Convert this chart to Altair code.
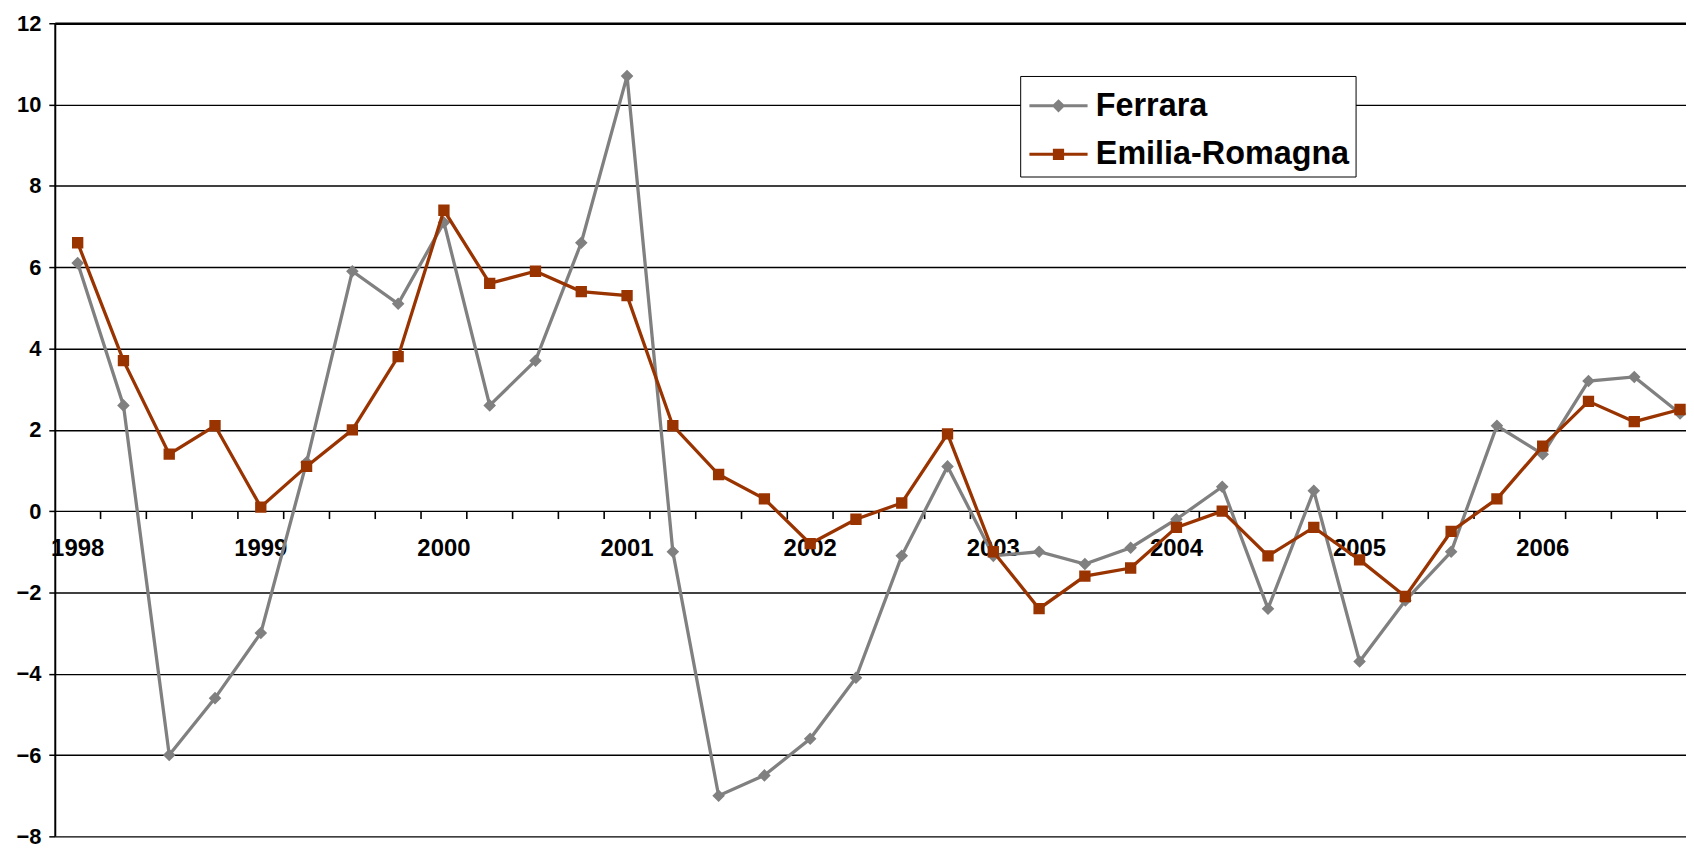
import altair as alt
import pandas as pd

# ---- data (quarterly values) ----
years = ["1998", "1999", "2000", "2001", "2002", "2003", "2004", "2005", "2006"]
quarters = [f"{y}-T{q}" for y in years for q in (1, 2, 3, 4)]

ferrara = [6.1, 2.6, -6.0, -4.6, -3.0, 1.2, 5.9, 5.1, 7.1, 2.6, 3.7, 6.6,
           10.7, -1.0, -7.0, -6.5, -5.6, -4.1, -1.1, 1.1, -1.1, -1.0, -1.3, -0.9,
           -0.2, 0.6, -2.4, 0.5, -3.7, -2.2, -1.0, 2.1, 1.4, 3.2, 3.3, 2.4]
emilia = [6.6, 3.7, 1.4, 2.1, 0.1, 1.1, 2.0, 3.8, 7.4, 5.6, 5.9, 5.4,
          5.3, 2.1, 0.9, 0.3, -0.8, -0.2, 0.2, 1.9, -1.0, -2.4, -1.6, -1.4,
          -0.4, 0.0, -1.1, -0.4, -1.2, -2.1, -0.5, 0.3, 1.6, 2.7, 2.2, 2.5]

series_names = ["Ferrara", "Emilia-Romagna"]
series_colors = ["#808080", "#993300"]
# marker symbols: a line through the marker (the line part is only visible in the legend)
series_symbols = ["M-1.27,0H1.27M0,-0.2L0.2,0L0,0.2L-0.2,0Z",
                  "M-1.27,0H1.27M-0.18,-0.18H0.18V0.18H-0.18Z"]
y_ticks = [-8, -6, -4, -2, 0, 2, 4, 6, 8, 10, 12]

rows = []
for name, vals in zip(series_names, [ferrara, emilia]):
    for i, (q, v) in enumerate(zip(quarters, vals)):
        rows.append({"serie": name, "trimestre": q, "pos": i, "valore": v})
df = pd.DataFrame(rows)

labels_df = pd.DataFrame({
    "anno": years,
    "pos": [quarters.index(f"{y}-T1") for y in years],
    "zero": [0] * len(years),
})
ticks_df = pd.DataFrame({
    "b": [i + 0.5 for i in range(len(quarters) - 1)],
    "zero": [0] * (len(quarters) - 1),
})

FONT = "Liberation Sans"

x_scale = alt.Scale(domain=[-0.5, 35.13], nice=False, zero=False)
y_scale = alt.Scale(domain=[-8, 12], nice=False, zero=False)
color_scale = alt.Scale(domain=series_names, range=series_colors)
shape_scale = alt.Scale(domain=series_names, range=series_symbols)

x_axis = alt.Axis(orient="top", labels=False, ticks=False, grid=False,
                  domain=True, domainColor="black", domainWidth=2.6, title=None)
y_axis = alt.Axis(values=y_ticks, grid=True, gridColor="black", gridWidth=1.4,
                  gridOpacity=1, domain=True, domainColor="black", domainWidth=2,
                  ticks=True, tickColor="black", tickSize=6, tickWidth=1.5,
                  labelFont=FONT, labelFontWeight="bold", labelFontSize=22,
                  labelColor="black", labelPadding=8, title=None)

legend = alt.Legend(
    title=None, orient="none", legendX=970, legendY=53,
    padding=5.5, rowPadding=7.7, symbolSize=2116, symbolStrokeWidth=3,
    symbolOffset=8.5, labelOffset=13, symbolOpacity=1,
    labelFont=FONT, labelFontWeight="bold", labelFontSize=32.5,
    labelColor="black", labelLimit=500,
    strokeColor="black", fillColor="white",
)

X = lambda f: alt.X(f, scale=x_scale, axis=x_axis)
Y = lambda f: alt.Y(f, scale=y_scale, axis=y_axis)

ticks = alt.Chart(ticks_df).mark_rule(color="black", strokeWidth=1.6, y2Offset=8).encode(
    x=X("b:Q"), y=Y("zero:Q"), y2="zero:Q")

year_labels = alt.Chart(labels_df).mark_text(
    font=FONT, fontWeight="bold", fontSize=24, color="black",
    baseline="alphabetic", align="center", dy=45).encode(
    x=X("pos:Q"), y=Y("zero:Q"), text="anno:N")


def series_layers(idx):
    name = series_names[idx]
    base = alt.Chart(df).transform_filter(alt.datum.serie == name)
    line = base.mark_line(strokeWidth=3.3, color=series_colors[idx]).encode(
        x=X("pos:Q"), y=Y("valore:Q"))
    pts = base.mark_point(filled=True, size=4000, opacity=1, strokeWidth=0).encode(
        x=X("pos:Q"), y=Y("valore:Q"),
        color=alt.Color("serie:N", scale=color_scale, legend=legend),
        stroke=alt.Stroke("serie:N", scale=color_scale, legend=legend),
        shape=alt.Shape("serie:N", scale=shape_scale, legend=legend))
    return [line, pts]


layers = [ticks, year_labels] + series_layers(0) + series_layers(1)

chart = alt.layer(*layers).properties(
    width=1639, height=817,
    autosize=alt.AutoSizeParams(type="none"),
    padding={"left": 47, "top": 13.3, "right": 0, "bottom": 13},
    background="white",
).configure_view(stroke=None)

chart.save("out.html", embed_options={"renderer": "svg", "actions": False})
